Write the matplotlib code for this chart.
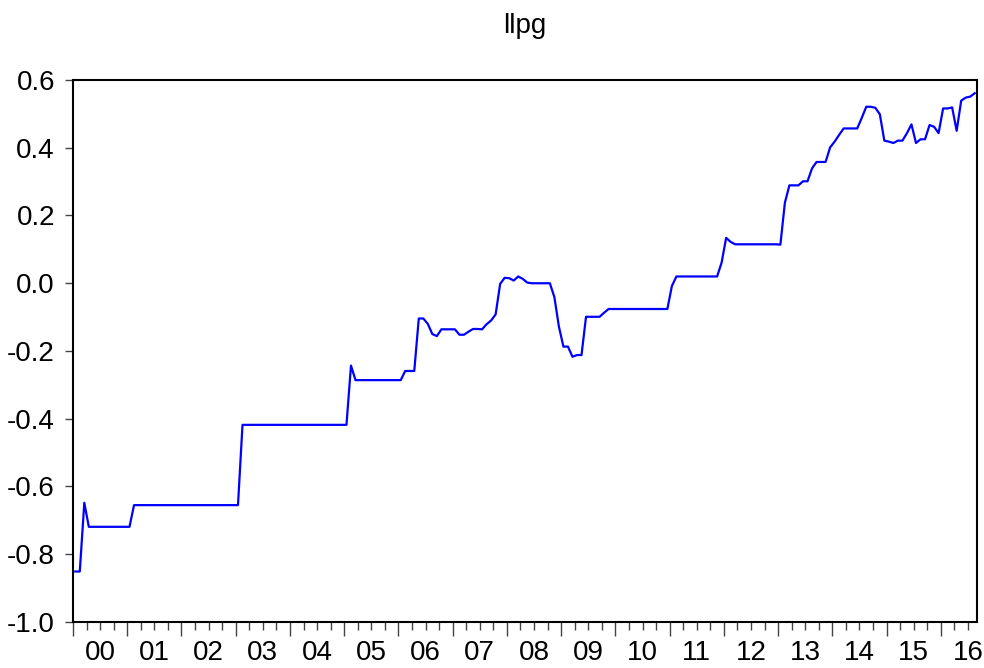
import matplotlib
matplotlib.use("Agg")
import matplotlib.pyplot as plt
from matplotlib.ticker import MultipleLocator, NullFormatter

plt.rcParams["font.family"] = ["Liberation Sans", "DejaVu Sans"]

# monthly observations, 2000M1 .. 2016M8
years = ["00", "01", "02", "03", "04", "05", "06", "07", "08",
         "09", "10", "11", "12", "13", "14", "15", "16"]

llpg_2000 = [-0.851, -0.851, -0.648, -0.719, -0.719, -0.719, -0.719, -0.719, -0.719, -0.719, -0.719, -0.719]
llpg_2001 = [-0.719, -0.655, -0.655, -0.655, -0.655, -0.655, -0.655, -0.655, -0.655, -0.655, -0.655, -0.655]
llpg_2002 = [-0.655, -0.655, -0.655, -0.655, -0.655, -0.655, -0.655, -0.655, -0.655, -0.655, -0.655, -0.655]
llpg_2003 = [-0.655, -0.418, -0.418, -0.418, -0.418, -0.418, -0.418, -0.418, -0.418, -0.418, -0.418, -0.418]
llpg_2004 = [-0.418, -0.418, -0.418, -0.418, -0.418, -0.418, -0.418, -0.418, -0.418, -0.418, -0.418, -0.418]
llpg_2005 = [-0.418, -0.243, -0.286, -0.286, -0.286, -0.286, -0.286, -0.286, -0.286, -0.286, -0.286, -0.286]
llpg_2006 = [-0.286, -0.259, -0.259, -0.259, -0.104, -0.104, -0.120, -0.150, -0.156, -0.136, -0.136, -0.136]
llpg_2007 = [-0.136, -0.152, -0.152, -0.143, -0.135, -0.135, -0.136, -0.121, -0.110, -0.092, -0.002, 0.016]
llpg_2008 = [0.015, 0.008, 0.020, 0.013, 0.002, 0.000, 0.000, 0.000, 0.000, 0.000, -0.041, -0.128]
llpg_2009 = [-0.187, -0.187, -0.217, -0.212, -0.212, -0.099, -0.099, -0.099, -0.099, -0.087, -0.076, -0.076]
llpg_2010 = [-0.076, -0.076, -0.076, -0.076, -0.076, -0.076, -0.076, -0.076, -0.076, -0.076, -0.076, -0.076]
llpg_2011 = [-0.008, 0.020, 0.020, 0.020, 0.020, 0.020, 0.020, 0.020, 0.020, 0.020, 0.020, 0.061]
llpg_2012 = [0.134, 0.122, 0.115, 0.115, 0.115, 0.115, 0.115, 0.115, 0.115, 0.115, 0.115, 0.115]
llpg_2013 = [0.114, 0.238, 0.289, 0.289, 0.289, 0.301, 0.301, 0.339, 0.358, 0.358, 0.358, 0.401]
llpg_2014 = [0.418, 0.438, 0.457, 0.457, 0.457, 0.457, 0.488, 0.521, 0.521, 0.518, 0.499, 0.421]
llpg_2015 = [0.418, 0.414, 0.421, 0.421, 0.443, 0.469, 0.414, 0.425, 0.425, 0.467, 0.462, 0.443]
llpg_2016 = [0.516, 0.516, 0.519, 0.450, 0.539, 0.548, 0.551, 0.561]

llpg = (llpg_2000 + llpg_2001 + llpg_2002 + llpg_2003 + llpg_2004 + llpg_2005
        + llpg_2006 + llpg_2007 + llpg_2008 + llpg_2009 + llpg_2010 + llpg_2011
        + llpg_2012 + llpg_2013 + llpg_2014 + llpg_2015 + llpg_2016)
n = len(llpg)
x = [i + 0.5 for i in range(n)]

fig = plt.figure(figsize=(9.84, 6.68), dpi=100)
ax = fig.add_axes([73 / 984, 46 / 668, 904 / 984, 542 / 668])

ax.plot(x, llpg, color="#0000ff", lw=1.6)
ax.set_xlim(0, n)
ax.set_ylim(-1.0, 0.6)
ax.set_title("llpg", fontsize=20, pad=34)

for s in ax.spines.values():
    s.set_linewidth(1.5)

ax.yaxis.set_major_locator(MultipleLocator(0.2))
ax.set_yticklabels([f"{v:.1f}" for v in ax.get_yticks()])
ax.tick_params(axis="y", length=6, width=1, pad=7, labelsize=20, color="#444444")

# year boundaries (long ticks) and quarters (short ticks)
ax.set_xticks(range(0, n, 12))
ax.xaxis.set_minor_locator(MultipleLocator(3))
ax.xaxis.set_major_formatter(NullFormatter())
ax.tick_params(axis="x", which="major", length=10, width=1, color="#444444")
ax.tick_params(axis="x", which="minor", length=6, width=1, color="#444444")

# year labels centred between the boundary ticks
lab = ax.secondary_xaxis("bottom")
lab.set_xticks([12 * k + 6 for k in range(len(years))], years)
lab.tick_params(length=0, pad=13)
for t in lab.get_xticklabels():
    t.set_fontsize(20)
    t.set_family(["Liberation Sans Narrow", "Liberation Sans"])
lab.spines["bottom"].set_visible(False)

fig.savefig("out.png", dpi=100)
